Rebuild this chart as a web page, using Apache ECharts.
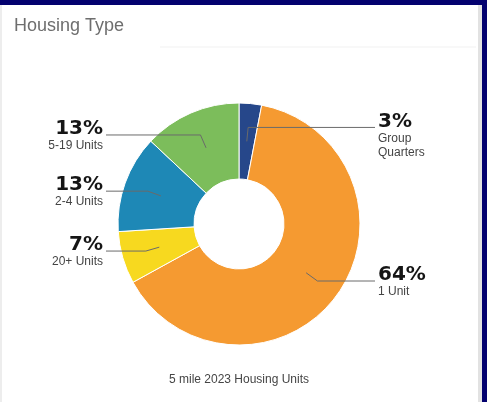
<!DOCTYPE html>
<html>
<head>
<meta charset="utf-8">
<script src="https://cdn.jsdelivr.net/npm/echarts@6/dist/echarts.min.js"></script>
<style>
  html, body { margin: 0; padding: 0; width: 487px; height: 402px; overflow: hidden; background: #03016f; }
  #card { position: absolute; left: 0; top: 5px; width: 482px; height: 397px; background: #ffffff;
          box-sizing: border-box; border-left: 2px solid #ededed; border-right: 4px solid #e2e2e2; }
  #chart { position: absolute; left: 0; top: 0; width: 487px; height: 402px; }
</style>
</head>
<body>
<div id="card"></div>
<div id="chart"></div>
<script>
// ---- data ----
const categories = ['Group Quarters', '1 Unit', '20+ Units', '2-4 Units', '5-19 Units'];
const labelNames = ['Group\nQuarters', '1 Unit', '20+ Units', '2-4 Units', '5-19 Units'];
const shares = [3, 64, 7, 13, 13];
const sliceColors = ['#26478a', '#f59a31', '#f7d91f', '#1e88b6', '#7cbd5b'];
const titleText = 'Housing Type';
const footText = '5 mile 2023 Housing Units';

// label line end positions (layout, px)
const LEFT_LINE_END = 106;
const RIGHT_LINE_END = 375;
const LABEL_GAP = 3;

const chart = echarts.init(document.getElementById('chart'), null, { renderer: 'canvas' });

const ringData = categories.map((c, i) => ({
  name: c, value: shares[i], itemStyle: { color: sliceColors[i] }
}));

const labelData = categories.map((c, i) => {
  const lines = labelNames[i].split('\n').length;
  return {
    name: c, value: shares[i],
    label: { padding: lines > 1 ? [16, 0, 0, 0] : [2, 0, 0, 0] }
  };
});

chart.setOption({
  animation: false,
  title: [
    { text: titleText, left: 14, top: 17, padding: 0,
      textStyle: { fontFamily: 'Liberation Sans', fontSize: 18, fontWeight: 'normal', color: '#6e6e6e' } },
    { text: footText, left: 239, top: 374, padding: 0, textAlign: 'center',
      textStyle: { fontFamily: 'Liberation Sans', fontSize: 12, fontWeight: 'normal', color: '#454545' } }
  ],
  graphic: [
    { type: 'line', shape: { x1: 160, y1: 47, x2: 476, y2: 47 }, style: { stroke: '#f1f1f1', lineWidth: 1 }, silent: true }
  ],
  series: [
    {
      type: 'pie',
      z: 2,
      center: [239, 224],
      radius: [45, 121],
      startAngle: 90,
      clockwise: true,
      silent: true,
      label: { show: false },
      labelLine: { show: false },
      itemStyle: { borderColor: '#ffffff', borderWidth: 1 },
      emphasis: { disabled: true },
      data: ringData
    },
    {
      type: 'pie',
      z: 5,
      center: [239, 224],
      radius: [0, 83],
      startAngle: 90,
      clockwise: true,
      silent: true,
      avoidLabelOverlap: false,
      itemStyle: { color: 'rgba(0,0,0,0)', borderWidth: 0 },
      emphasis: { disabled: true },
      label: {
        show: true,
        position: 'outside',
        distanceToLabelLine: LABEL_GAP,
        formatter: (p) => '{big|' + p.value + '%}\n{small|' + labelNames[p.dataIndex] + '}',
        rich: {
          big: { fontFamily: 'DejaVu Sans', fontWeight: 'bold', fontSize: 20, lineHeight: 20, color: '#151515' },
          small: { fontFamily: 'Liberation Sans', fontSize: 12, lineHeight: 14, color: '#444444' }
        }
      },
      labelLine: { show: true, length: 14, length2: 10, smooth: false,
                   lineStyle: { color: '#6a6a6a', width: 1 } },
      labelLayout: (params) => {
        const p = params.labelLinePoints;
        if (!p) return {};
        const dir = p[2][0] >= p[1][0] ? 1 : -1;
        const endX = dir > 0 ? RIGHT_LINE_END : LEFT_LINE_END;
        const y = p[1][1];
        return {
          x: endX + dir * LABEL_GAP,
          y: y,
          align: dir > 0 ? 'left' : 'right',
          verticalAlign: 'middle',
          labelLinePoints: [p[0], p[1], [endX, y]]
        };
      },
      data: labelData
    }
  ]
});
</script>
</body>
</html>
